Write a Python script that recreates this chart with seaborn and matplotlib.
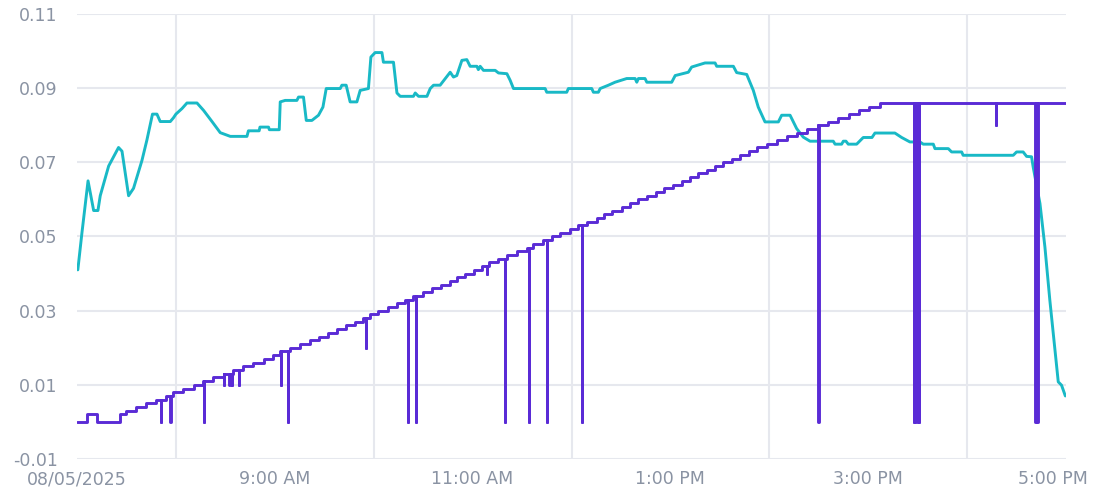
import numpy as np
import pandas as pd
import matplotlib
matplotlib.use("Agg")
import matplotlib.pyplot as plt
import matplotlib.dates as mdates
import matplotlib.ticker as mticker
import matplotlib.transforms as mtransforms
import seaborn as sns

day_start = "2025-08-05 07:00"

# teal series: minutes after 7:00 AM and value
teal_min = [0.5, 3.0, 6.7, 10.1, 12.7, 14.1, 19.2, 25.2, 27.3, 31.3, 34.3, 39.4, 42.4, 45.8,
            48.5, 50.5, 56.6, 58.5, 60.0, 63.7, 66.7, 72.8, 76.8, 81.9, 86.9, 93.0, 103.1,
            104.0, 110.5, 111.0, 116.2, 116.7, 122.7, 123.3, 126.3, 133.4, 134.4, 137.4,
            139.1, 142.5, 146.5, 149.2, 151.2, 159.7, 160.7, 163.3, 165.7, 169.8, 171.8,
            176.8, 178.3, 180.9, 185.0, 185.9, 192.0, 194.1, 196.1, 204.1, 205.2, 207.2,
            212.3, 214.3, 216.3, 220.3, 223.4, 226.4, 228.4, 230.4, 233.5, 236.5, 238.5,
            242.6, 243.5, 244.6, 246.6, 253.7, 255.7, 260.8, 262.8, 264.8, 284.0, 285.0,
            297.1, 298.1, 312.3, 313.3, 316.3, 317.4, 322.4, 326.4, 333.5, 338.6, 339.6,
            340.6, 344.6, 345.7, 360.8, 362.9, 370.9, 372.9, 381.0, 387.1, 388.1, 398.2,
            400.2, 406.3, 410.3, 413.3, 417.4, 425.5, 427.5, 432.6, 436.6, 440.6, 444.7,
            458.8, 459.9, 463.9, 464.9, 466.5, 467.9, 473.0, 477.0, 482.3, 484.1, 496.2,
            500.3, 505.3, 511.4, 513.4, 519.5, 520.5, 528.6, 530.6, 536.7, 537.6, 568.0,
            570.0, 574.0, 576.1, 579.1, 580.1, 584.2, 587.2, 590.2, 593.3, 595.3, 597.3,
            599.6]
teal_val = [0.041, 0.051, 0.065, 0.057, 0.057, 0.061, 0.069, 0.074, 0.073, 0.061, 0.063,
            0.0705, 0.076, 0.083, 0.083, 0.081, 0.081, 0.082, 0.083, 0.0845, 0.086, 0.086,
            0.084, 0.081, 0.078, 0.077, 0.077, 0.0785, 0.0785, 0.0795, 0.0795, 0.0788,
            0.0788, 0.0863, 0.0867, 0.0867, 0.0876, 0.0876, 0.0813, 0.0813, 0.0827, 0.0849,
            0.0899, 0.0899, 0.0908, 0.0908, 0.0863, 0.0863, 0.0894, 0.0899, 0.0984, 0.0996,
            0.0996, 0.0970, 0.0970, 0.0887, 0.0878, 0.0878, 0.0887, 0.0878, 0.0878, 0.0899,
            0.0908, 0.0908, 0.0926, 0.0943, 0.0930, 0.0934, 0.0975, 0.0977, 0.0959, 0.0959,
            0.0950, 0.0959, 0.0948, 0.0948, 0.0941, 0.0939, 0.0921, 0.0899, 0.0899, 0.0889,
            0.0889, 0.0899, 0.0899, 0.0889, 0.0889, 0.0899, 0.0908, 0.0916, 0.0926, 0.0926,
            0.0916, 0.0926, 0.0926, 0.0916, 0.0916, 0.0934, 0.0943, 0.0957, 0.0968, 0.0968,
            0.0959, 0.0959, 0.0942, 0.0937, 0.0894, 0.0849, 0.0809, 0.0809, 0.0827, 0.0827,
            0.0791, 0.0768, 0.0757, 0.0757, 0.0749, 0.0749, 0.0757, 0.0757, 0.0749, 0.0749,
            0.0767, 0.0767, 0.0779, 0.0779, 0.0767, 0.0755, 0.0755, 0.0749, 0.0749, 0.0737,
            0.0737, 0.0728, 0.0728, 0.0719, 0.0719, 0.0728, 0.0728, 0.0716, 0.0715, 0.0687,
            0.0589, 0.0472, 0.0328, 0.0194, 0.0108, 0.0099, 0.0070]

# purple series: minutes after 7:00 AM where the level changes, and the new level
purple_min = [0.0, 6.2, 12.1, 26.3, 29.7, 36.0, 41.8, 47.9, 54.0, 58.4, 64.6, 70.7, 76.2,
              82.8, 88.9, 94.4, 100.7, 106.5, 113.2, 118.9, 123.3, 129.3, 135.4, 141.5,
              146.9, 152.0, 157.7, 163.3, 168.8, 173.8, 177.9, 182.9, 188.6, 194.0, 198.7,
              204.1, 210.2, 215.3, 220.7, 226.0, 230.8, 235.5, 240.9, 246.0, 250.2, 255.7,
              260.8, 266.8, 272.9, 276.9, 283.0, 288.0, 293.1, 299.2, 304.2, 309.3, 315.3,
              319.8, 324.8, 330.5, 335.5, 340.6, 345.7, 351.3, 356.2, 361.8, 366.9, 371.9,
              377.0, 382.0, 387.1, 392.2, 397.4, 402.5, 407.7, 412.4, 418.4, 424.5, 430.6,
              436.6, 442.7, 449.7, 455.8, 461.8, 468.5, 474.6, 480.7, 487.1, 600.0]
purple_val = [0.0, 0.002, 0.0, 0.002, 0.003, 0.004, 0.005, 0.006, 0.007, 0.008, 0.009,
              0.010, 0.011, 0.012, 0.013, 0.014, 0.015, 0.016, 0.017, 0.018, 0.019, 0.020,
              0.021, 0.022, 0.023, 0.024, 0.025, 0.026, 0.027, 0.028, 0.029, 0.030, 0.031,
              0.032, 0.033, 0.034, 0.035, 0.036, 0.037, 0.038, 0.039, 0.040, 0.041, 0.042,
              0.043, 0.044, 0.045, 0.046, 0.047, 0.048, 0.049, 0.050, 0.051, 0.052, 0.053,
              0.054, 0.055, 0.056, 0.057, 0.058, 0.059, 0.060, 0.061, 0.062, 0.063, 0.064,
              0.065, 0.066, 0.067, 0.068, 0.069, 0.070, 0.071, 0.072, 0.073, 0.074, 0.075,
              0.076, 0.077, 0.078, 0.079, 0.080, 0.081, 0.082, 0.083, 0.084, 0.085, 0.086,
              0.086]

# short drops of the purple series: minute after 7:00 AM and how low it went
drop_min = [51.1, 56.6, 77.2, 88.9, 92.4, 94.0, 98.0, 123.7, 128.0, 175.4, 200.9, 205.6,
            248.6, 259.7, 274.1, 285.2, 306.4, 449.8, 507.8, 509.3, 510.8, 557.3, 581.4,
            582.7]
drop_low = [0.0, 0.0, 0.0, 0.01, 0.01, 0.01, 0.01, 0.01, 0.0, 0.02, 0.0, 0.0, 0.04, 0.0,
            0.0, 0.0, 0.0, 0.0, 0.0, 0.0, 0.0, 0.080, 0.0, 0.0]

y_ticks = [-0.01, 0.01, 0.03, 0.05, 0.07, 0.09, 0.11]

teal_color = "#19b9c6"
purple_color = "#5a2bd6"
grid_color = "#e6e8ee"
label_color = "#8a93a3"

sns.set_theme(style="white")
plt.rcParams['font.family'] = ['DejaVu Sans']

t0 = pd.Timestamp(day_start)

# teal frame
teal = pd.DataFrame({"time": t0 + pd.to_timedelta(teal_min, unit="min"), "value": teal_val})

# purple frame: steps plus the momentary drops
steps = pd.DataFrame({"minute": purple_min, "value": purple_val})
idx = np.searchsorted(purple_min, drop_min, side="right") - 1
back_level = np.array(purple_val)[idx]
drops = pd.DataFrame({"minute": drop_min, "value": drop_low})
returns = pd.DataFrame({"minute": np.array(drop_min) + 0.15, "value": back_level})
purple = pd.concat([steps, drops, returns]).sort_values("minute", kind="stable")
purple["time"] = t0 + pd.to_timedelta(purple["minute"], unit="min")

fig = plt.figure(figsize=(11.04, 4.91), dpi=100)
ax = fig.add_axes([77 / 1104, 1 - 459 / 491, (1066 - 77) / 1104, (459 - 14) / 491])

sns.lineplot(data=teal, x="time", y="value", color=teal_color, linewidth=2.1,
             estimator=None, sort=False, ax=ax)
sns.lineplot(data=purple, x="time", y="value", color=purple_color, linewidth=2.1,
             estimator=None, sort=False, drawstyle="steps-post", ax=ax)

ax.set_xlim(t0, t0 + pd.Timedelta(hours=10))
ax.set_ylim(-0.01, 0.11)
ax.set_xlabel("")
ax.set_ylabel("")

for s in ax.spines.values():
    s.set_visible(False)

# x axis: grid every hour, labels every two hours
ax.xaxis.set_major_locator(mdates.HourLocator(byhour=range(7, 18, 2)))
ax.xaxis.set_minor_locator(mdates.HourLocator())


def time_label(x, pos):
    d = mdates.num2date(x)
    if d.hour == 7:
        return d.strftime("%m/%d/%Y")
    h = d.hour % 12 or 12
    return f"{h}:{d.minute:02d} {'AM' if d.hour < 12 else 'PM'}"


ax.xaxis.set_major_formatter(mticker.FuncFormatter(time_label))
ax.set_yticks(y_ticks)
ax.set_yticklabels([f"{v:.2f}" for v in y_ticks])

ax.grid(True, which="minor", axis="x", color=grid_color, linewidth=1.5)
ax.grid(True, which="major", axis="y", color=grid_color, linewidth=1.5)
ax.set_axisbelow(True)

ax.tick_params(axis="x", which="major", length=6, width=1.5, color=grid_color,
               labelsize=12.5, labelcolor=label_color, pad=2)
ax.tick_params(axis="x", which="minor", length=0)
ax.tick_params(axis="y", which="major", length=10, width=1.5, color=grid_color,
               labelsize=12.5, labelcolor=label_color, pad=4)

# last label sits inside the figure like the original
fig.canvas.draw()
last = ax.get_xticklabels()[-1]
last.set_horizontalalignment("right")
last.set_transform(last.get_transform() + mtransforms.ScaledTranslation(22 / 100, 0, fig.dpi_scale_trans))

fig.savefig("out.png", dpi=100)
